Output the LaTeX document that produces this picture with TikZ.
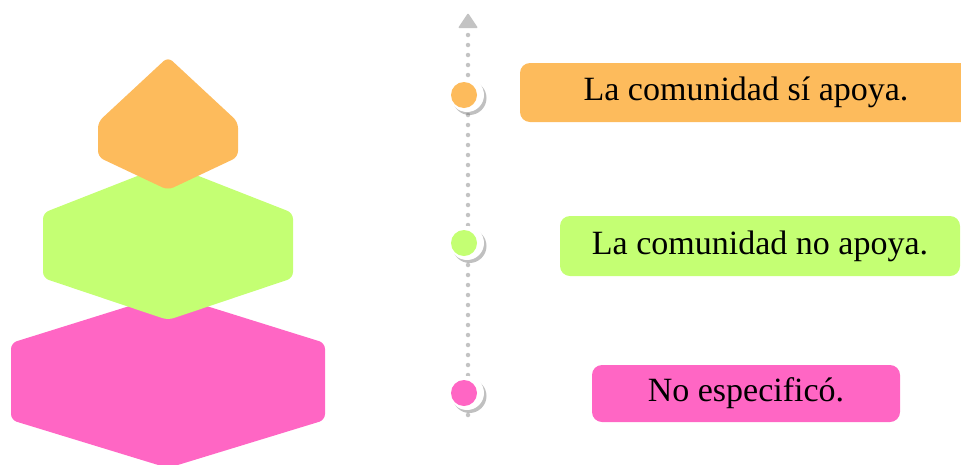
\documentclass[tikz,border=0pt]{standalone}
\usepackage{fontspec}
\setmainfont{Liberation Serif}
\usetikzlibrary{shadows}
\definecolor{corange}{RGB}{253,187,92}
\definecolor{cgreen}{RGB}{196,255,115}
\definecolor{cpink}{RGB}{255,102,196}
\definecolor{cgray}{RGB}{195,195,195}
\tikzset{
  hexa/.style={rounded corners=6pt},
  lbl/.style={rectangle, rounded corners=10pt, inner sep=0pt, font=\fontsize{34}{40}\selectfont, text=black},
  ring/.style={circle, fill=white, minimum size=34pt, inner sep=0pt, drop shadow={shadow xshift=2.5pt, shadow yshift=-3pt, opacity=0.45, fill=black!55}},
  dotc/.style={circle, minimum size=26pt, inner sep=0pt},
}
\begin{document}
\begin{tikzpicture}[x=1pt, y=-1pt]
\useasboundingbox (0,0) rectangle (961,464);
% pyramid
\fill[cpink, hexa] (168,294) -- (325,343) -- (325,420) -- (168,468) -- (11,420) -- (11,343) -- cycle;
\fill[cgreen, hexa] (168,164) -- (293,213) -- (293,278) -- (168,320) -- (43,278) -- (43,213) -- cycle;
\fill[corange, hexa] (168,57) -- (238,122) -- (238,157) -- (168,190) -- (98,157) -- (98,122) -- cycle;
% timeline
\coordinate (top) at (468,29);
\coordinate (bot) at (468,422);
\draw[cgray, line width=4.5pt, line cap=round, dash pattern=on 0pt off 10pt] (top) ++(0,6) -- (bot);
\fill[cgray, rounded corners=1pt] (468,13) -- (478,28) -- (458,28) -- cycle;
% markers
\node[ring] (r1) at (467,95) {};
\node[dotc, fill=corange] (c1) at (464,95) {};
\node[ring] (r2) at (467,243) {};
\node[dotc, fill=cgreen] (c2) at (464,243) {};
\node[ring] (r3) at (467,393) {};
\node[dotc, fill=cpink] (c3) at (464,393) {};
% labels
\node[lbl, fill=corange, minimum width=452pt, minimum height=59pt] (l1) at (746,92.5) {La comunidad sí apoya.};
\node[lbl, fill=cgreen, minimum width=400pt, minimum height=60pt] (l2) at (760,246) {La comunidad no apoya.};
\node[lbl, fill=cpink, minimum width=308pt, minimum height=57pt] (l3) at (746,393.5) {No especificó.};
\end{tikzpicture}
\end{document}
